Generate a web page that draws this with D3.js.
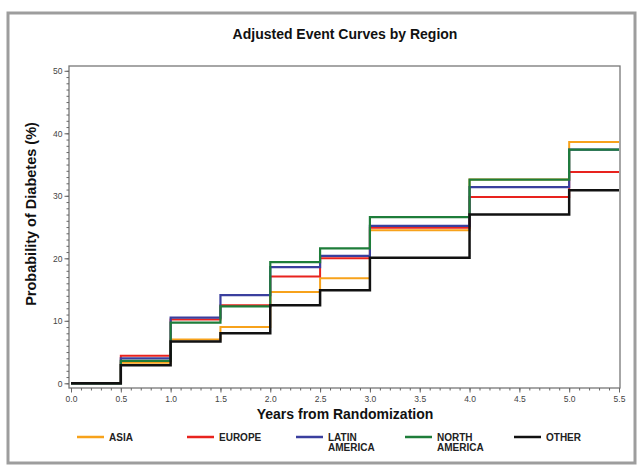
<!DOCTYPE html>
<html>
<head>
<meta charset="utf-8">
<script src="https://cdn.jsdelivr.net/npm/d3@7"></script>
<style>
  html, body { margin: 0; padding: 0; background: #fff; }
  svg { display: block; font-family: "Liberation Sans", Arial, sans-serif; }
</style>
</head>
<body>
<svg id="chart" width="639" height="466"></svg>
<script>
// ---- data ----
const stepTimes = [0, 0.5, 1, 1.5, 2, 2.5, 3, 4, 5];
const endTime = 5.5;
const asia         = [0, 3.3, 7.0, 9.0, 14.6, 16.8, 24.5, 32.6, 38.6];
const europe       = [0, 4.4, 10.2, 12.5, 17.1, 20.0, 24.9, 29.8, 33.8];
const latinAmerica = [0, 4.0, 10.5, 14.1, 18.6, 20.4, 25.2, 31.4, 37.4];
const northAmerica = [0, 3.6, 9.7, 12.3, 19.4, 21.6, 26.6, 32.6, 37.4];
const other        = [0, 2.9, 6.7, 8.0, 12.5, 14.9, 20.1, 27.0, 30.9];
const seriesNames  = ["ASIA", "EUROPE", "LATIN\nAMERICA", "NORTH\nAMERICA", "OTHER"];
const xTicks = [0, 0.5, 1, 1.5, 2, 2.5, 3, 3.5, 4, 4.5, 5, 5.5];
const yTicks = [0, 10, 20, 30, 40, 50];

const seriesValues = [asia, europe, latinAmerica, northAmerica, other];
const colors = ["#f7a21b", "#e8231e", "#3a3f9e", "#1e7d3a", "#111111"];
const widths = [2, 2, 2.2, 2.2, 2.5];

const svg = d3.select("#chart");

// outer frame
svg.append("rect").attr("x", 8).attr("y", 13).attr("width", 627).attr("height", 450)
  .attr("fill", "none").attr("stroke", "#9d9d9d").attr("stroke-width", 3);

// title
svg.append("text").attr("x", 345).attr("y", 39).attr("text-anchor", "middle")
  .attr("font-weight", "bold").attr("font-size", 14).attr("fill", "#111")
  .text("Adjusted Event Curves by Region");

const x = d3.scaleLinear().domain([0, 5.5]).range([71, 619]);
const y = d3.scaleLinear().domain([0, 50]).range([383.3, 70.8]);

const frameL = 69, frameR = 620, frameT = 66, frameB = 388;

// plot frame
svg.append("rect").attr("x", frameL).attr("y", frameT)
  .attr("width", frameR - frameL).attr("height", frameB - frameT)
  .attr("fill", "none").attr("stroke", "#777").attr("stroke-width", 1.3);

// y axis minor
const yMinor = svg.append("g").attr("transform", `translate(${frameL},0)`)
  .call(d3.axisLeft(y).tickValues(d3.range(0, 51, 1)).tickSize(2.5).tickFormat(""));
// y axis major
const yMajor = svg.append("g").attr("transform", `translate(${frameL},0)`)
  .call(d3.axisLeft(y).tickValues(yTicks).tickSize(4.5).tickPadding(2).tickFormat(d3.format("d")));
// x axis minor
const xMinor = svg.append("g").attr("transform", `translate(0,${frameB})`)
  .call(d3.axisBottom(x).tickValues(d3.range(0, 5.51, 0.1)).tickSize(2.5).tickFormat(""));
// x axis major
const xMajor = svg.append("g").attr("transform", `translate(0,${frameB})`)
  .call(d3.axisBottom(x).tickValues(xTicks).tickSize(4.5).tickPadding(3).tickFormat(d3.format(".1f")));

[yMinor, yMajor, xMinor, xMajor].forEach(g => {
  g.select(".domain").remove();
  g.selectAll(".tick line").attr("stroke", "#666").attr("stroke-width", 1);
  g.selectAll(".tick text").attr("fill", "#444").attr("font-size", 8.5)
    .attr("font-family", "'Liberation Sans', Arial, sans-serif");
});

// axis titles
svg.append("text").attr("x", 345).attr("y", 419).attr("text-anchor", "middle")
  .attr("font-weight", "bold").attr("font-size", 14).attr("fill", "#111")
  .text("Years from Randomization");
svg.append("text").attr("transform", "translate(36,214) rotate(-90)").attr("text-anchor", "middle")
  .attr("font-weight", "bold").attr("font-size", 14.5).attr("fill", "#111")
  .text("Probability of Diabetes (%)");

// step lines
const line = d3.line().x(d => x(d[0])).y(d => y(d[1])).curve(d3.curveStepAfter);
seriesValues.forEach((vals, i) => {
  const pts = stepTimes.map((t, j) => [t, vals[j]]);
  pts.push([endTime, vals[vals.length - 1]]);
  svg.append("path").datum(pts).attr("d", line)
    .attr("fill", "none").attr("stroke", colors[i]).attr("stroke-width", widths[i])
    .attr("stroke-linejoin", "miter").attr("stroke-linecap", "butt");
});

// legend
const legendX = [77, 187, 296, 405, 514];
seriesNames.forEach((name, i) => {
  const g = svg.append("g").attr("transform", `translate(${legendX[i]},437)`);
  g.append("line").attr("x1", 0).attr("x2", 27).attr("y1", 0).attr("y2", 0)
    .attr("stroke", colors[i]).attr("stroke-width", 2.5);
  const lines = name.split("\n");
  lines.forEach((l, k) => {
    g.append("text").attr("x", 32).attr("y", 4 + k * 10)
      .attr("font-weight", "bold").attr("font-size", 10).attr("fill", "#222").text(l);
  });
});
</script>
</body>
</html>
